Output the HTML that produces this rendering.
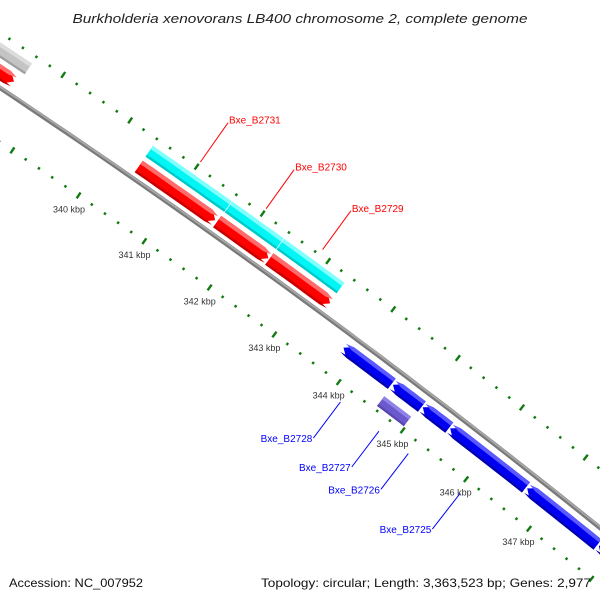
<!DOCTYPE html>
<html><head><meta charset="utf-8"><style>
html,body{margin:0;padding:0;background:#fff;overflow:hidden;}
svg{display:block;font-family:"Liberation Sans",sans-serif;}
</style></head><body>
<svg id="map" width="600" height="600" viewBox="0 0 600 600" xmlns="http://www.w3.org/2000/svg">
<rect width="600" height="600" fill="#fff"/>
<text x="300" y="23" text-anchor="middle" font-size="13" font-style="italic" fill="#222" textLength="455" lengthAdjust="spacingAndGlyphs">Burkholderia xenovorans LB400 chromosome 2, complete genome</text>
<g id="ticks"></g>
<g id="backbone"></g>
<g id="feats"></g>
<g id="labels"></g>
<text x="9" y="587" font-size="12" fill="#111" textLength="134" lengthAdjust="spacingAndGlyphs">Accession: NC_007952</text>
<text x="591" y="587" text-anchor="end" font-size="12" fill="#111" textLength="330" lengthAdjust="spacingAndGlyphs">Topology: circular; Length: 3,363,523 bp; Genes: 2,977</text>
</svg>
<script>
// data
const featNames = ["prev-gray","prev-red","Bxe_B2731","Bxe_B2730","Bxe_B2729","red-1","red-2","red-3","Bxe_B2728","blue-2","Bxe_B2726","Bxe_B2725","blue-5","blue-6","Bxe_B2727"];
const featStart = [336000,336500,340410,341610,342400,340410,341600,342395,343790,344560,345025,345455,346670,347810,344560];
const featEnd   = [338600,338540,341600,342390,343320,341570,342380,343330,344540,345010,345440,346650,347790,349800,344980];
const featStrand= [0,1,0,0,0,1,1,1,-1,-1,-1,-1,-1,-1,0];
const featTrack = ["cyan","red","cyan","cyan","cyan","red","red","red","blue","blue","blue","blue","blue","blue","purple"];
const labelText = ["Bxe_B2731","Bxe_B2730","Bxe_B2729","Bxe_B2728","Bxe_B2727","Bxe_B2726","Bxe_B2725"];
const labelBp   = [341005,342000,342860,344165,344770,345232,346050];
const labelSide = [1,1,1,-1,-1,-1,-1];
const tickLabelValues = [340,341,342,343,344,345,346,347];
const tickStart = 336000, tickEnd = 350000, tickMinor = 200, tickMajor = 1000;

// axis / geometry
const NS="http://www.w3.org/2000/svg";
const CX=-4540, CY=6908, R0=8193;
function ang(bp){ return (-55.47 + (bp-340000)/1000*0.563)*Math.PI/180; }
function pt(bp, off){ const a=ang(bp), r=R0+off; return [CX+r*Math.cos(a), CY+r*Math.sin(a)]; }
function mk(tag, attrs, parent){ const e=document.createElementNS(NS,tag); for(const k in attrs) e.setAttribute(k,attrs[k]); parent.appendChild(e); return e; }
const tracks = {
  cyan:{r1:25,r2:38,fill:"#00f5f5",hi:"#80ffff",lo:"#00c8c8"},
  red:{r1:6,r2:20,fill:"#ff0000",hi:"#ff6a6a",lo:"#c80000"},
  blue:{r1:-21,r2:-8,fill:"#0000f0",hi:"#5a5aff",lo:"#0000b0"},
  purple:{r1:-41,r2:-29,fill:"#6a5acd",hi:"#8f82e8",lo:"#5546b0"}
};
const grayTrack = {fill:"#c4c4c4",hi:"#dcdcdc",lo:"#a0a0a0"};
function arcPts(a,b,off,n){ const p=[]; for(let i=0;i<=n;i++){ p.push(pt(a+(b-a)*i/n,off)); } return p; }
function shape(a,b,r1,r2,strand){
  const head=100; const mid=(r1+r2)/2; let pts=[];
  if(strand===1){ const s=Math.max(a,b-head); pts=pts.concat(arcPts(a,s,r2,6)); pts.push(pt(b,mid)); pts=pts.concat(arcPts(s,a,r1,6)); }
  else if(strand===-1){ const s=Math.min(b,a+head); pts.push(pt(a,mid)); pts=pts.concat(arcPts(s,b,r2,6)); pts=pts.concat(arcPts(b,s,r1,6)); }
  else { pts=pts.concat(arcPts(a,b,r2,6)); pts=pts.concat(arcPts(b,a,r1,6)); }
  return pts.map(p=>p[0].toFixed(1)+","+p[1].toFixed(1)).join(" ");
}
// ticks
const tg=document.getElementById("ticks");
for(let bp=tickStart; bp<=tickEnd; bp+=tickMinor){
  const major = bp%tickMajor===0;
  [46,-45].forEach(function(o){
    const h = major?3.5:1.3;
    const p1=pt(bp,o-h), p2=pt(bp,o+h);
    const t=mk("line",{x1:p1[0],y1:p1[1],x2:p2[0],y2:p2[1],stroke:"#117a11","stroke-width":2.4},tg);
    
    
  });
}
tickLabelValues.forEach(function(v){
  const c=pt(v*1000,-62);
  const tl=mk("text",{x:c[0],y:c[1]+3,"text-anchor":"middle","font-size":"9",fill:"#333"},tg);
  tl.textContent=v+" kbp";
  
  
});
// backbone
const bg=document.getElementById("backbone");
const bbp=arcPts(336000,350000,0,60).map(p=>p[0].toFixed(1)+","+p[1].toFixed(1)).join(" ");
const b1=mk("polyline",{points:bbp,fill:"none",stroke:"#7a7a7a","stroke-width":4.5},bg);


const bbh=arcPts(336000,350000,0.9,60).map(p=>p[0].toFixed(1)+","+p[1].toFixed(1)).join(" ");
const b2=mk("polyline",{points:bbh,fill:"none",stroke:"#a8a8a8","stroke-width":1.8},bg);


// features
const fg=document.getElementById("feats");
for(let i=0;i<featStart.length;i++){
  const tr=tracks[featTrack[i]];
  const col = featNames[i]==="prev-gray" ? grayTrack : tr;
  const a=featStart[i], b=featEnd[i], st=featStrand[i];
  const g=mk("g",{},fg);
  
  
  mk("polygon",{points:shape(a,b,tr.r1,tr.r2,st),fill:col.fill},g);
  const h=(tr.r2-tr.r1);
  mk("polygon",{points:shape(a,b,tr.r2-h*0.3,tr.r2,st),fill:col.hi},g);
  mk("polygon",{points:shape(a,b,tr.r1,tr.r1+h*0.18,st),fill:col.lo},g);
}
// labels
const lg=document.getElementById("labels");
for(let i=0;i<labelText.length;i++){
  const side=labelSide[i];
  const s = side>0 ? pt(labelBp[i],52) : pt(labelBp[i],-60);
  const e = side>0 ? pt(labelBp[i],100) : pt(labelBp[i],-105);
  const col = side>0 ? "#ff0000" : "#0000ff";
  const ln=mk("line",{x1:s[0],y1:s[1],x2:e[0],y2:e[1],stroke:col,"stroke-width":1},lg);
  
  
  const t = side>0 ? mk("text",{x:e[0]+1,y:e[1]+1,"font-size":"10",fill:col},lg)
                   : mk("text",{x:e[0]-1,y:e[1]+4,"font-size":"10",fill:col,"text-anchor":"end"},lg);
  t.textContent=labelText[i];
  
  
}
</script>
</body></html>
